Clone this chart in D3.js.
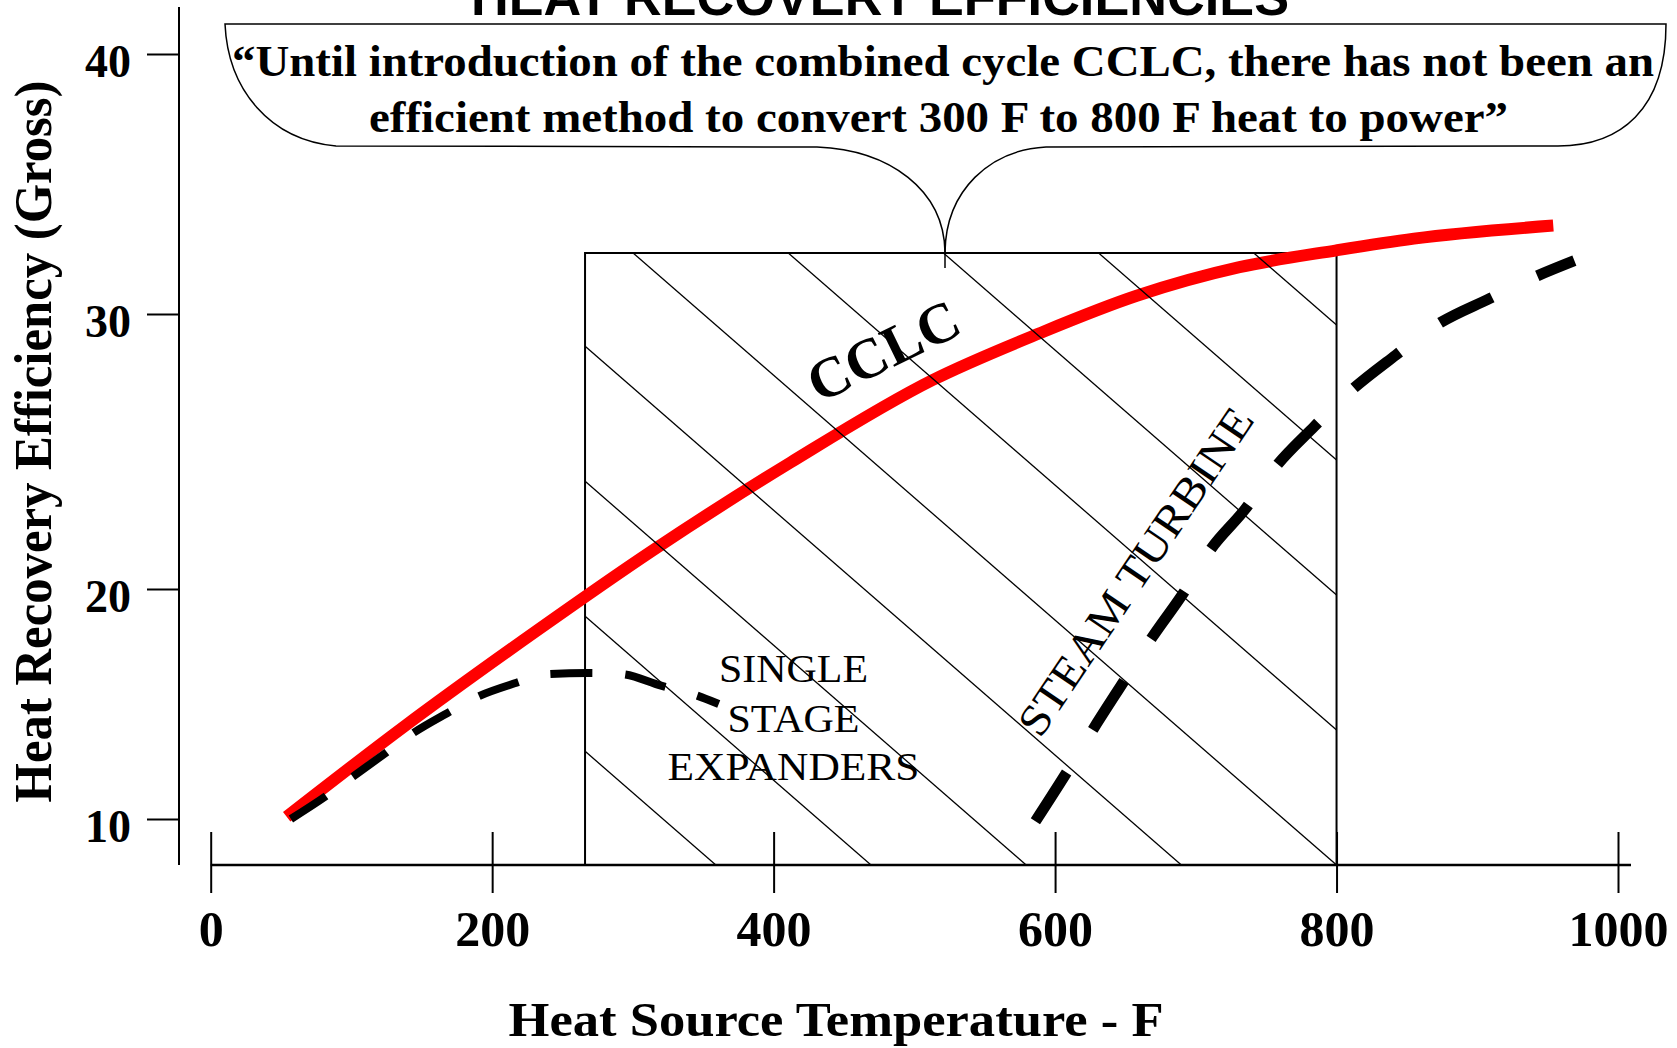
<!DOCTYPE html>
<html><head><meta charset="utf-8">
<script src="https://cdn.jsdelivr.net/npm/d3@7"></script>
<style>html,body{margin:0;padding:0;background:#fff;overflow:hidden;} svg{display:block;}</style>
</head><body>
<svg id="chart" width="1677" height="1048"></svg>
<script>
// ---- data ----
const xTicks = [0, 200, 400, 600, 800, 1000];
const yTicks = [10, 20, 30, 40];
const cclcTemp = [54, 137, 232, 314, 412, 513, 589, 658, 731, 800, 855, 954];
const cclcEff  = [10.1, 14.0, 18.2, 21.4, 24.6, 27.6, 29.3, 30.7, 31.8, 32.45, 32.9, 33.4];
const expanderTemp = [57, 82, 100, 125, 143, 168, 189, 216, 239, 268, 292, 320, 344, 361];
const expanderEff  = [10.0, 11.0, 11.8, 12.9, 13.7, 14.6, 15.3, 15.9, 16.3, 16.35, 16.3, 15.8, 15.4, 15.0];
const steamTemp = [586, 609, 627, 649, 669, 692, 710, 735, 756, 784, 810, 842, 871, 909, 942, 969];
const steamEff  = [9.9, 12.1, 13.9, 16.0, 17.9, 19.9, 21.4, 22.9, 24.4, 25.9, 27.2, 28.5, 29.6, 30.6, 31.45, 32.05];
const regionTemp = [266, 800];
const regionTopEff = 32.35;
const axisFloorEff = 8;
const titleText = "HEAT RECOVERY EFFICIENCIES";
const calloutLines = ["\u201CUntil introduction of the combined cycle CCLC, there has not been an",
                      "efficient method to convert 300 F to 800 F heat to power\u201D"];
const xTitle = "Heat Source Temperature - F";
const yTitle = "Heat Recovery Efficiency (Gross)";
const expanderLabel = ["SINGLE", "STAGE", "EXPANDERS"];

// ---- layout ----
const svg = d3.select("#chart");
const x = d3.scaleLinear().domain([0, 1000]).range([210.7, 1618]);
const y = d3.scaleLinear().domain([10, 20, 30, 40]).range([819, 589, 314, 54]);
const serif = "'Liberation Serif', 'Times New Roman', serif";
const sans = "'Liberation Sans', Arial, sans-serif";
const yBase = y(axisFloorEff);

// title (cut at top, as in the original)
svg.append("text").attr("x", 880).attr("y", 15).attr("text-anchor", "middle")
  .attr("font-family", sans).attr("font-weight", "bold").attr("font-size", 52)
  .attr("textLength", 818).attr("lengthAdjust", "spacingAndGlyphs").text(titleText);

// callout bubble
svg.append("path")
  .attr("d", "M225,24 L1666,24 C1666,110 1620,146 1558,146 L1046,147 C990,150 946,190 945,252 " +
             "C944,190 890,150 817,147 L336,146 C270,140 228,90 225,24 Z")
  .attr("fill", "none").attr("stroke", "#000").attr("stroke-width", 1.5);
svg.append("line").attr("x1", 945).attr("x2", 945).attr("y1", 240).attr("y2", 268)
  .attr("stroke", "#000").attr("stroke-width", 1.5);
const calloutPos = [{cx: 943, y: 76, len: 1422}, {cx: 938.5, y: 132, len: 1139}];
calloutLines.forEach((t, i) => {
  svg.append("text").attr("x", calloutPos[i].cx).attr("y", calloutPos[i].y).attr("text-anchor", "middle")
    .attr("font-family", serif).attr("font-weight", "bold").attr("font-size", 44)
    .attr("textLength", calloutPos[i].len).attr("lengthAdjust", "spacingAndGlyphs").text(t);
});

// region box
const bx0 = x(regionTemp[0]), bx1 = x(regionTemp[1]), byTop = y(regionTopEff);
svg.append("path")
  .attr("d", `M${bx0},${yBase} L${bx0},${byTop} L${bx1},${byTop} L${bx1},${yBase}`)
  .attr("fill", "none").attr("stroke", "#000").attr("stroke-width", 2);

// CCLC curve
const line = d3.line().x(d => x(d[0])).y(d => y(d[1])).curve(d3.curveMonotoneX);
svg.append("path").datum(d3.zip(cclcTemp, cclcEff)).attr("d", line)
  .attr("fill", "none").attr("stroke", "#ff0000").attr("stroke-width", 12);

// hatching
svg.append("clipPath").attr("id", "boxclip").append("rect")
  .attr("x", bx0).attr("y", byTop).attr("width", bx1 - bx0).attr("height", yBase - byTop);
const slope = 0.87, gap = 135;
const hatch = svg.append("g").attr("clip-path", "url(#boxclip)");
d3.range(-6, 7).forEach(k => {
  const xa = bx0 - 100, xb = bx1 + 100;
  hatch.append("line")
    .attr("x1", xa).attr("y1", yBase - k * gap + slope * (xa - bx1))
    .attr("x2", xb).attr("y2", yBase - k * gap + slope * (xb - bx1))
    .attr("stroke", "#000").attr("stroke-width", 1.3);
});

// dashed curves
svg.append("path").datum(d3.zip(expanderTemp, expanderEff)).attr("d", line)
  .attr("fill", "none").attr("stroke", "#000").attr("stroke-width", 8).attr("stroke-dasharray", "42,33");
svg.append("path").datum(d3.zip(steamTemp, steamEff)).attr("d", line)
  .attr("fill", "none").attr("stroke", "#000").attr("stroke-width", 11).attr("stroke-dasharray", "58,50");

// axes
svg.append("line").attr("x1", x(0)).attr("x2", x(1000) + 13).attr("y1", yBase).attr("y2", yBase)
  .attr("stroke", "#000").attr("stroke-width", 2.5);
svg.append("line").attr("x1", 179).attr("x2", 179).attr("y1", 7).attr("y2", yBase)
  .attr("stroke", "#000").attr("stroke-width", 2);

const gx = svg.append("g").attr("transform", `translate(0,${yBase})`)
  .call(d3.axisBottom(x).tickValues(xTicks).tickSizeOuter(0).tickFormat(d3.format("d")));
gx.select(".domain").remove();
gx.selectAll(".tick line").attr("y1", -33).attr("y2", 28).attr("stroke", "#000").attr("stroke-width", 2);
gx.selectAll(".tick text").attr("y", 81).attr("dy", null).attr("fill", "#000")
  .attr("font-family", serif).attr("font-weight", "bold").attr("font-size", 50);

const gy = svg.append("g").attr("transform", "translate(179,0)")
  .call(d3.axisLeft(y).tickValues(yTicks).tickSizeOuter(0).tickSize(32).tickFormat(d3.format("d")));
gy.select(".domain").remove();
gy.selectAll(".tick line").attr("stroke", "#000").attr("stroke-width", 2);
gy.selectAll(".tick text").attr("x", -48).attr("dy", null).attr("y", 22).attr("fill", "#000")
  .attr("font-family", serif).attr("font-weight", "bold").attr("font-size", 46);

// axis titles
svg.append("text").attr("x", 836).attr("y", 1036).attr("text-anchor", "middle")
  .attr("font-family", serif).attr("font-weight", "bold").attr("font-size", 48)
  .attr("textLength", 655).attr("lengthAdjust", "spacingAndGlyphs").text(xTitle);
svg.append("text").attr("transform", "translate(51,441.5) rotate(-90)").attr("text-anchor", "middle")
  .attr("font-family", serif).attr("font-weight", "bold").attr("font-size", 52)
  .attr("textLength", 722).attr("lengthAdjust", "spacingAndGlyphs").text(yTitle);

// in-plot labels
svg.append("text").attr("transform", "translate(883,350) rotate(-26)").attr("text-anchor", "middle")
  .attr("dy", "0.35em").attr("font-family", serif).attr("font-weight", "bold").attr("font-size", 57)
  .attr("textLength", 162).attr("lengthAdjust", "spacingAndGlyphs").text("CCLC");
svg.append("text").attr("transform", "translate(1135,571) rotate(-56)").attr("text-anchor", "middle")
  .attr("dy", "0.35em").attr("font-family", serif).attr("font-size", 44)
  .attr("textLength", 385).attr("lengthAdjust", "spacingAndGlyphs").text("STEAM TURBINE");
const expPos = [{y: 681.7, len: 149}, {y: 731.7, len: 132}, {y: 780, len: 252}];
expanderLabel.forEach((t, i) => {
  svg.append("text").attr("x", 793.5).attr("y", expPos[i].y).attr("text-anchor", "middle")
    .attr("font-family", serif).attr("font-size", 39)
    .attr("textLength", expPos[i].len).attr("lengthAdjust", "spacingAndGlyphs").text(t);
});
</script>
</body></html>
